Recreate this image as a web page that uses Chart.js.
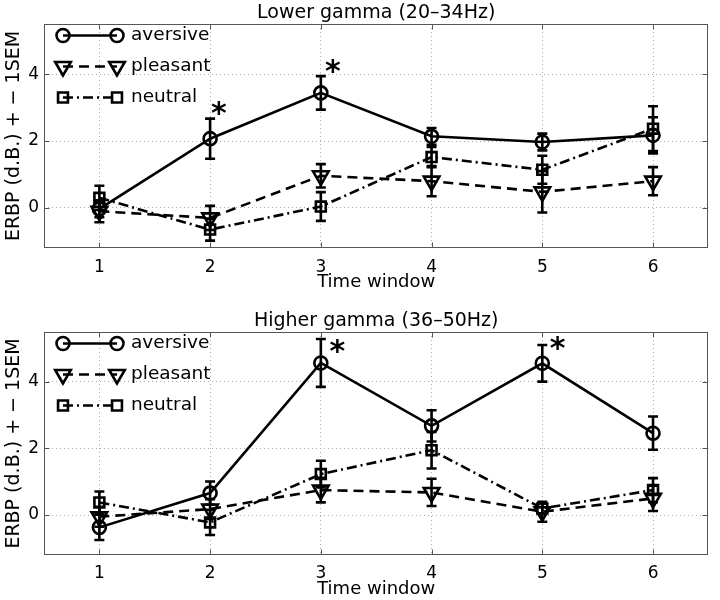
<!DOCTYPE html>
<html><head><meta charset="utf-8">
<script src="https://cdn.jsdelivr.net/npm/chart.js@4/dist/chart.umd.min.js"></script>
<style>
html,body{margin:0;padding:0;background:#fff;}
#wrap{position:relative;width:720px;height:600px;background:#fff;}
.box{position:absolute;left:0;width:720px;height:300px;}
</style></head><body>
<div id="wrap">
<div class="box" style="top:0"><canvas id="c1" width="720" height="300"></canvas></div>
<div class="box" style="top:300px"><canvas id="c2" width="720" height="300"></canvas></div>
</div>
<script>
// ---- data ----
const timeWindows = [1, 2, 3, 4, 5, 6];
const xTickLabels = ['1', '2', '3', '4', '5', '6'];
const yTickValues = [0, 2, 4];
const seriesNames = ['aversive', 'pleasant', 'neutral'];

// Lower gamma (20–34Hz): mean ERBP and 1 SEM
const lowerAversive    = [-0.03, 2.07, 3.44, 2.14, 1.97, 2.17];
const lowerAversiveErr = [0.25, 0.60, 0.50, 0.25, 0.25, 0.54];
const lowerPleasant    = [-0.10, -0.30, 0.96, 0.80, 0.48, 0.80];
const lowerPleasantErr = [0.33, 0.36, 0.35, 0.45, 0.62, 0.42];
const lowerNeutral     = [0.30, -0.65, 0.04, 1.52, 1.14, 2.37];
const lowerNeutralErr  = [0.36, 0.33, 0.43, 0.30, 0.42, 0.67];
const lowerStarX = [2.08, 3.11];
const lowerStarY = [2.98, 4.22];

// Higher gamma (36–50Hz)
const higherAversive    = [-0.37, 0.66, 4.57, 2.68, 4.56, 2.46];
const higherAversiveErr = [0.38, 0.35, 0.72, 0.47, 0.55, 0.50];
const higherPleasant    = [-0.05, 0.18, 0.75, 0.68, 0.10, 0.50];
const higherPleasantErr = [0.30, 0.30, 0.37, 0.41, 0.30, 0.38];
const higherNeutral     = [0.38, -0.22, 1.23, 1.95, 0.20, 0.75];
const higherNeutralErr  = [0.33, 0.38, 0.40, 0.55, 0.15, 0.36];
const higherStarX = [3.15, 5.14];
const higherStarY = [5.05, 5.14];

// ---- styling ----
const FONT = 'DejaVu Sans';
const FRAME = '#555555';
const LW = 2.6;
const seriesStyles = [
  {dash: [], pointStyle: 'circle', radius: 6.5, rotation: 0},
  {dash: [10, 6], pointStyle: 'triangle', radius: 9, rotation: 180},
  {dash: [10, 4, 2, 4], pointStyle: 'rect', radius: 7, rotation: 0}
];

function toPoints(vals) { return timeWindows.map((t, i) => ({x: t, y: vals[i]})); }

const matlabPlugin = {
  id: 'matlabLook',
  afterDatasetsDraw(chart, args, opts) {
    const ctx = chart.ctx;
    const area = chart.chartArea;
    const xs = chart.scales.x, ys = chart.scales.y;
    ctx.save();
    // error bars
    chart.data.datasets.forEach((ds, di) => {
      const meta = chart.getDatasetMeta(di);
      ctx.strokeStyle = '#000';
      ctx.lineWidth = LW;
      ctx.setLineDash([]);
      meta.data.forEach((el, i) => {
        const v = ds.data[i].y, e = ds.errorBars[i];
        const yt = ys.getPixelForValue(v + e), yb = ys.getPixelForValue(v - e);
        const x = el.x;
        ctx.beginPath();
        ctx.moveTo(x, yt); ctx.lineTo(x, yb);
        ctx.moveTo(x - 5, yt); ctx.lineTo(x + 5, yt);
        ctx.moveTo(x - 5, yb); ctx.lineTo(x + 5, yb);
        ctx.stroke();
      });
    });
    // frame
    const L = Math.round(area.left) + 0.5, R = Math.round(area.right) - 0.5;
    const T = Math.round(area.top) + 0.5, B = Math.round(area.bottom) - 0.5;
    ctx.strokeStyle = FRAME; ctx.lineWidth = 1; ctx.setLineDash([]);
    ctx.strokeRect(L, T, R - L, B - T);
    ctx.beginPath();
    const tl = 5;
    timeWindows.forEach(t => {
      const x = Math.round(xs.getPixelForValue(t)) + 0.5;
      ctx.moveTo(x, B); ctx.lineTo(x, B - tl);
      ctx.moveTo(x, T); ctx.lineTo(x, T + tl);
    });
    yTickValues.forEach(v => {
      const y = Math.round(ys.getPixelForValue(v)) + 0.5;
      ctx.moveTo(L, y); ctx.lineTo(L + tl, y);
      ctx.moveTo(R, y); ctx.lineTo(R - tl, y);
    });
    ctx.stroke();
    // legend (marker - line - marker, label)
    const rowOffsets = [11.5, 42.5, 73.5];
    chart.data.datasets.forEach((ds, di) => {
      const st = seriesStyles[di];
      const y = area.top + rowOffsets[di];
      const x1 = area.left + 19, x2 = area.left + 73;
      ctx.strokeStyle = '#000'; ctx.lineWidth = LW;
      ctx.setLineDash(st.dash);
      ctx.beginPath(); ctx.moveTo(x1, y); ctx.lineTo(x2, y); ctx.stroke();
      ctx.setLineDash([]);
      ctx.fillStyle = 'rgba(0,0,0,0)';
      [x1, x2].forEach(px => {
        Chart.helpers.drawPoint(ctx, {pointStyle: st.pointStyle, radius: st.radius, rotation: st.rotation, borderWidth: LW}, px, y);
      });
      ctx.fillStyle = '#000';
      ctx.font = '18.5px "' + FONT + '"';
      ctx.textAlign = 'left'; ctx.textBaseline = 'middle';
      ctx.fillText(ds.label, area.left + 87, y);
    });
    // significance asterisks
    ctx.font = 'bold 30px "' + FONT + '"';
    ctx.fillStyle = '#000';
    ctx.textAlign = 'left'; ctx.textBaseline = 'alphabetic';
    const m = ctx.measureText('*');
    const inkW = m.actualBoundingBoxRight + m.actualBoundingBoxLeft;
    const inkH = m.actualBoundingBoxAscent + m.actualBoundingBoxDescent;
    opts.starX.forEach((sx, i) => {
      const cx = xs.getPixelForValue(sx), cy = ys.getPixelForValue(opts.starY[i]);
      ctx.fillText('*', cx - inkW / 2 + m.actualBoundingBoxLeft, cy + inkH / 2 - m.actualBoundingBoxDescent);
    });
    ctx.restore();
  }
};

function makeChart(id, titleText, vals, errs, starX, starY, lay) {
  const datasets = seriesNames.map((name, i) => ({
    label: name,
    data: toPoints(vals[i]),
    errorBars: errs[i],
    borderColor: '#000',
    borderWidth: LW,
    borderDash: seriesStyles[i].dash,
    pointStyle: seriesStyles[i].pointStyle,
    pointRadius: seriesStyles[i].radius,
    pointRotation: seriesStyles[i].rotation,
    pointBorderWidth: LW,
    pointBorderColor: '#000',
    pointBackgroundColor: 'rgba(0,0,0,0)',
    fill: false,
    tension: 0,
    showLine: true,
    clip: false
  }));
  return new Chart(document.getElementById(id), {
    type: 'line',
    data: {datasets},
    options: {
      responsive: false,
      animation: false,
      devicePixelRatio: 1,
      layout: {padding: {left: 0, right: 4, top: 0, bottom: 0}},
      plugins: {
        legend: {display: false},
        tooltip: {enabled: false},
        title: {
          display: true, text: titleText, fullSize: false, color: '#000',
          font: {family: FONT, size: 19, weight: 'normal', lineHeight: '20px'},
          padding: {top: lay.titleTop, bottom: lay.titleBottom}
        },
        matlabLook: {starX, starY}
      },
      scales: {
        x: {
          type: 'linear', min: 0.5, max: 6.5,
          afterBuildTicks: s => { s.ticks = timeWindows.map(v => ({value: v})); },
          afterFit: s => { s.height = lay.xHeight; },
          ticks: {
            autoSkip: false, maxRotation: 0, color: '#000', padding: lay.xTickPad,
            font: {family: FONT, size: 17},
            callback: v => xTickLabels[timeWindows.indexOf(v)] ?? ''
          },
          grid: {color: '#ababab', lineWidth: 1, drawTicks: false},
          border: {display: false, dash: [1, 3]},
          title: {
            display: true, text: 'Time window', color: '#000',
            font: {family: FONT, size: 18, lineHeight: '20px'},
            padding: {top: 0, bottom: lay.xTitleBottom}
          }
        },
        y: {
          type: 'linear', min: -1.2, max: 5.5,
          afterBuildTicks: s => { s.ticks = yTickValues.map(v => ({value: v})); },
          afterFit: s => { s.width = 44; },
          ticks: {color: '#000', padding: 5, font: {family: FONT, size: 17}},
          grid: {color: '#ababab', lineWidth: 1, drawTicks: false},
          border: {display: false, dash: [1, 3]},
          title: {
            display: true, text: 'ERBP (d.B.) + − 1SEM', color: '#000',
            font: {family: FONT, size: 19, lineHeight: '20px'},
            padding: {top: 4.5, bottom: 0}
          }
        }
      }
    },
    plugins: [matlabPlugin]
  });
}

makeChart('c1', 'Lower gamma (20–34Hz)',
  [lowerAversive, lowerPleasant, lowerNeutral],
  [lowerAversiveErr, lowerPleasantErr, lowerNeutralErr],
  lowerStarX, lowerStarY,
  {titleTop: 3, titleBottom: 1, xHeight: 52, xTickPad: 9, xTitleBottom: 7.5});

makeChart('c2', 'Higher gamma (36–50Hz)',
  [higherAversive, higherPleasant, higherNeutral],
  [higherAversiveErr, higherPleasantErr, higherNeutralErr],
  higherStarX, higherStarY,
  {titleTop: 11, titleBottom: 1, xHeight: 45, xTickPad: 8, xTitleBottom: 1});
</script>
</body></html>
